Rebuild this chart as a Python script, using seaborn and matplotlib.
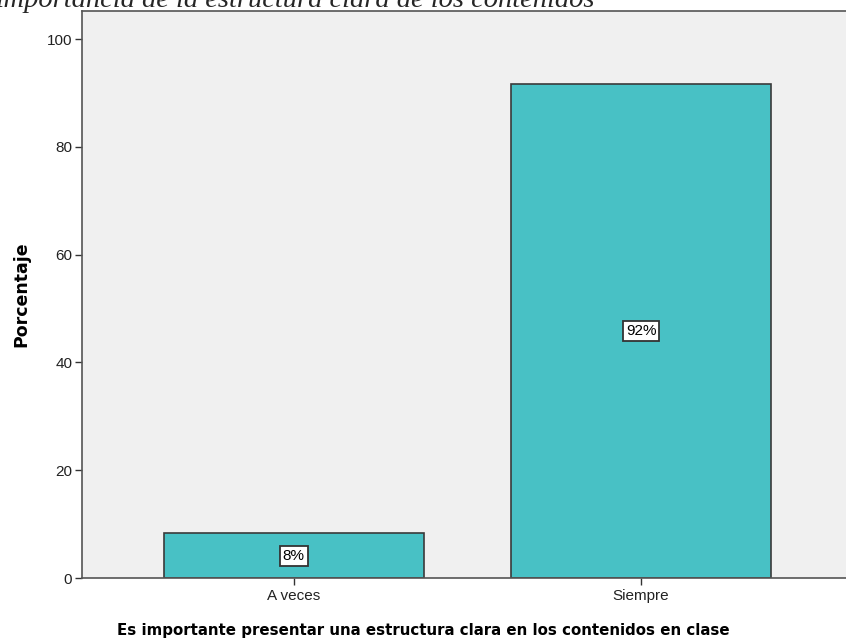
import seaborn as sns
import matplotlib.pyplot as plt
import pandas as pd

categorias = ["A veces", "Siempre"]
porcentajes = [8.3, 91.7]
etiquetas = ["8%", "92%"]

df = pd.DataFrame({"Respuesta": categorias, "Porcentaje": porcentajes})

sns.set_style("white")
plt.rcParams['font.family'] = ['Liberation Sans', 'DejaVu Sans']

fig = plt.figure(figsize=(8.46, 6.42), dpi=100)
W, H = 846, 642
ax = fig.add_axes([82 / W, 1 - 578 / H, (846 - 82) / W, (578 - 11) / H])
ax.set_facecolor("#F0F0F0")

sns.barplot(x="Respuesta", y="Porcentaje", data=df, ax=ax, color="#48C1C5",
            width=0.75, edgecolor="#3a3a3a", linewidth=1.2, saturation=1)

# etiquetas en el centro de cada barra
for i, (v, t) in enumerate(zip(porcentajes, etiquetas)):
    ax.text(i, v / 2, t, ha="center", va="center", fontsize=11, color="black",
            bbox=dict(boxstyle="square,pad=0.2", fc="white", ec="#333333", lw=1.3))

ax.set_xlim(-0.61, 1.59)
ax.set_ylim(0, 105.2)
ax.set_yticks([0, 20, 40, 60, 80, 100])
ax.tick_params(axis="both", direction="out", length=5, width=1, color="#333333",
               labelsize=11, labelcolor="#222222", pad=2)
ax.tick_params(axis="x", pad=3)
ax.tick_params(left=True, bottom=True)

for s in ["left", "bottom", "top"]:
    ax.spines[s].set_color("#555555")
    ax.spines[s].set_linewidth(1.2)
ax.spines["right"].set_visible(False)

ax.set_xlabel("")
ax.set_ylabel("Porcentaje", fontsize=12.5, fontweight="bold", family="DejaVu Sans", color="black")
ax.yaxis.set_label_coords(-52 / (846 - 82), 0.5)

fig.text(423 / W, 1 - 630 / H, "Es importante presentar una estructura clara en los contenidos en clase",
         ha="center", va="center", fontsize=10.85, fontweight="bold", family="DejaVu Sans", color="black")

# titulo cortado en el borde superior, como en la imagen original
fig.text(595 / W, 1 - 7 / H, "Importancia de la estructura clara de los contenidos",
         ha="right", va="baseline", fontsize=20.5, style="italic", family="Liberation Serif")

plt.savefig("out.png", dpi=100)
